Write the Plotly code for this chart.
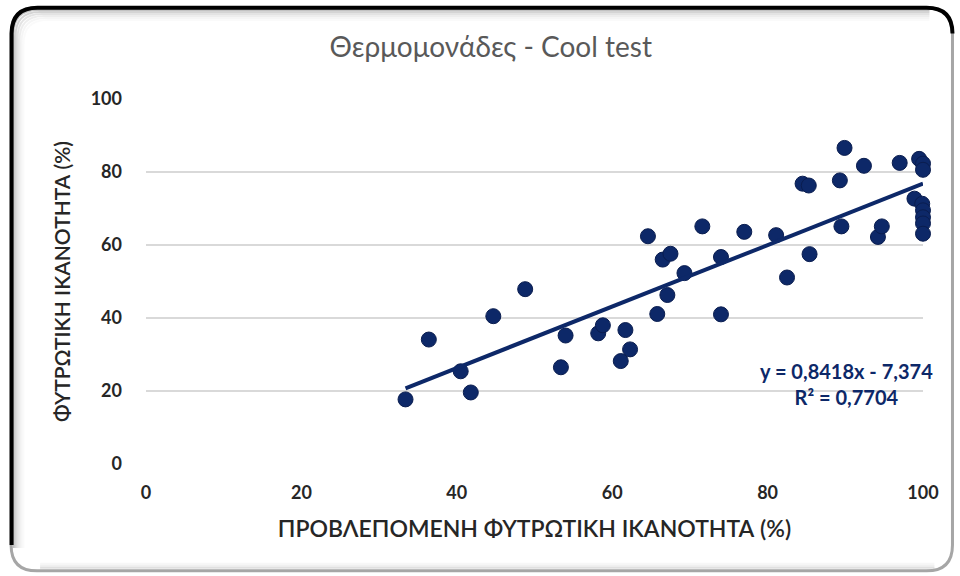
import plotly.graph_objects as go

# Predicted vs. measured germination capacity (%), cool test
predicted = [33.4, 36.4, 40.5, 41.8, 44.7, 48.8, 53.4, 54.0, 58.2, 58.8,
             61.1, 61.7, 62.3, 64.6, 65.8, 66.5, 67.1, 67.5, 69.3, 71.6,
             74.0, 74.0, 77.0, 81.1, 82.5, 84.5, 85.3, 85.4, 89.3, 89.5,
             89.9, 92.4, 94.2, 94.7, 97.0, 98.9, 99.5, 100.0, 100.0, 99.9,
             100.0, 100.0, 100.0, 100.0]
measured = [17.7, 34.1, 25.4, 19.6, 40.5, 47.9, 26.5, 35.2, 35.8, 38.0,
            28.2, 36.7, 31.4, 62.4, 41.1, 56.0, 46.3, 57.6, 52.3, 65.1,
            56.7, 41.0, 63.6, 62.7, 51.1, 76.8, 76.3, 57.5, 77.7, 65.1,
            86.6, 81.7, 62.2, 65.1, 82.5, 72.7, 83.6, 82.3, 80.6, 71.3,
            69.5, 67.6, 65.9, 63.1]

# Linear trend line parameters
slope = 0.8418
intercept = -7.374
r_squared = 0.7704

axis_ticks = [0, 20, 40, 60, 80, 100]

title_text = "Θερμομονάδες - Cool test"
x_title = "ΠΡΟΒΛΕΠΟΜΕΝΗ ΦΥΤΡΩΤΙΚΗ ΙΚΑΝΟΤΗΤΑ (%)"
y_title = "ΦΥΤΡΩΤΙΚΗ ΙΚΑΝΟΤΗΤΑ (%)"

W, H = 960, 576
ML, MR, MT, MB = 146, 36.5, 98.5, 112
PW, PH = W - ML - MR, H - MT - MB

NAVY = "#0d2868"
FONT = "Lato, 'Open Sans', sans-serif"


def px(x):
    return (x - ML) / PW


def py(y):
    return (H - MB - y) / PH


def rounded_path(x0, y0, x1, y1, r, open_lt=False):
    if open_lt:
        return (f"M {px(x0)},{py(y1 - r)} L {px(x0)},{py(y0 + r)} "
                f"Q {px(x0)},{py(y0)} {px(x0 + r)},{py(y0)} "
                f"L {px(x1 - r)},{py(y0)} Q {px(x1)},{py(y0)} {px(x1)},{py(y0 + r)}")
    return (f"M {px(x0 + r)},{py(y0)} L {px(x1 - r)},{py(y0)} "
            f"Q {px(x1)},{py(y0)} {px(x1)},{py(y0 + r)} "
            f"L {px(x1)},{py(y1 - r)} Q {px(x1)},{py(y1)} {px(x1 - r)},{py(y1)} "
            f"L {px(x0 + r)},{py(y1)} Q {px(x0)},{py(y1)} {px(x0)},{py(y1 - r)} "
            f"L {px(x0)},{py(y0 + r)} Q {px(x0)},{py(y0)} {px(x0 + r)},{py(y0)} Z")


def left_top_path(x0, y0, x1, y1, r):
    return (f"M {px(x0)},{py(y1)} L {px(x0)},{py(y0 + r)} "
            f"Q {px(x0)},{py(y0)} {px(x0 + r)},{py(y0)} L {px(x1)},{py(y0)}")


fig = go.Figure()

fig.add_trace(go.Scatter(
    x=predicted, y=measured, mode="markers", cliponaxis=False,
    marker=dict(size=15, color=NAVY, line=dict(color="#0a1d4f", width=1)),
    showlegend=False, hoverinfo="x+y",
))

x_lo, x_hi = min(predicted), max(predicted)
fig.add_trace(go.Scatter(
    x=[x_lo, x_hi], y=[slope * x_lo + intercept, slope * x_hi + intercept],
    mode="lines", line=dict(color=NAVY, width=4), cliponaxis=False,
    showlegend=False, hoverinfo="skip",
))

shapes = []
# soft inner shading along the left and top edges of the frame
for i, a in enumerate([0.24, 0.17, 0.11, 0.07, 0.04, 0.02]):
    off = 2.5 + i * 2
    shapes.append(dict(type="path", xref="paper", yref="paper",
                       path=left_top_path(11 + off, 7 + off, 930, 548, 24),
                       line=dict(color=f"rgba(0,0,0,{a})", width=2), layer="below"))
# faint shading along the bottom
for i, a in enumerate([0.12, 0.06, 0.03]):
    yb = 568 - i * 2
    shapes.append(dict(type="line", xref="paper", yref="paper",
                       x0=px(40), x1=px(935), y0=py(yb), y1=py(yb),
                       line=dict(color=f"rgba(0,0,0,{a})", width=2), layer="below"))
# frame outline
shapes.append(dict(type="path", xref="paper", yref="paper",
                   path=rounded_path(11, 7, 953, 571, 26),
                   line=dict(color="#a6a6a6", width=3), layer="above"))
shapes.append(dict(type="path", xref="paper", yref="paper",
                   path=rounded_path(11.5, 7, 953, 571, 26, open_lt=True),
                   line=dict(color="#000000", width=4), layer="above"))

eq_text = (f"y = {slope:.4f}x - {abs(intercept):.3f}".replace(".", ",")
           + "<br>" + f"R² = {r_squared:.4f}".replace(".", ","))

fig.update_layout(
    width=W, height=H,
    margin=dict(l=ML, r=MR, t=MT, b=MB, autoexpand=False),
    paper_bgcolor="white", plot_bgcolor="white",
    font=dict(family=FONT, color="#262626"),
    title=dict(text=title_text, x=px(491), xanchor="center", xref="paper",
               y=1 - 47 / H, yanchor="middle", yref="container",
               font=dict(size=28, color="#595959", family=FONT)),
    xaxis=dict(range=[0, 100], tickvals=axis_ticks, showgrid=False,
               zeroline=False, showline=False, ticks="",
               ticklabelstandoff=16,
               tickfont=dict(size=18, weight="bold", color="#262626"),
               title=dict(text=x_title, standoff=18,
                          font=dict(size=23, weight=600, color="#262626"))),
    yaxis=dict(range=[0, 100], tickvals=axis_ticks, showgrid=True,
               gridcolor="#d9d9d9", gridwidth=1.5, zeroline=False,
               showline=False, ticks="", ticklabelstandoff=23,
               tickfont=dict(size=18, weight="bold", color="#262626"),
               title=dict(text=y_title, standoff=14,
                          font=dict(size=21, weight=600, color="#262626"))),
    shapes=shapes,
    annotations=[dict(text=eq_text, x=px(847), y=py(384), xref="paper",
                      yref="paper", showarrow=False, align="center",
                      xanchor="center", yanchor="middle",
                      font=dict(size=20, weight="bold", color=NAVY, family=FONT))],
)

fig.write_html("out.html")
